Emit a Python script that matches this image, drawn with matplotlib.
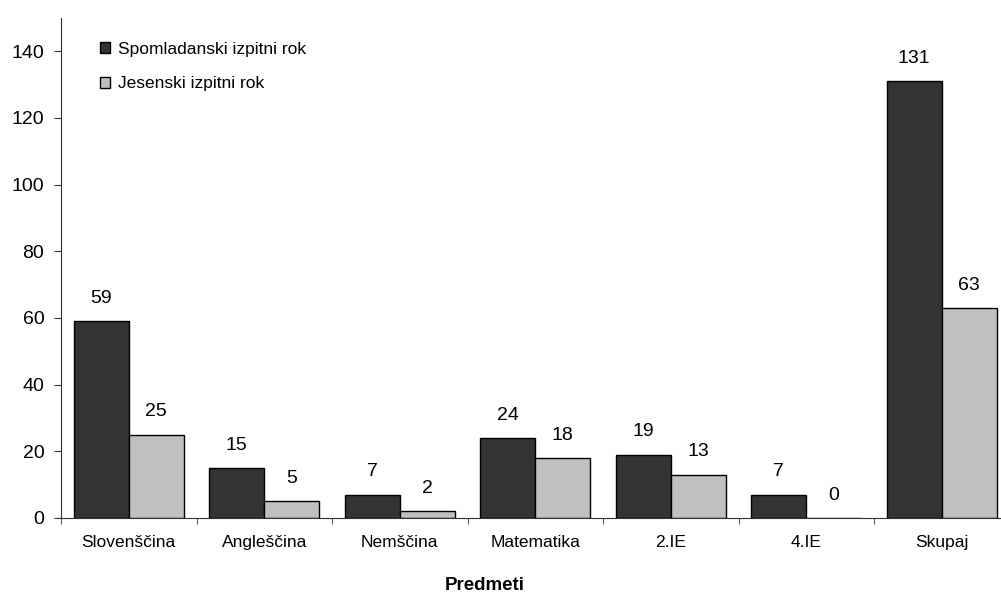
import numpy as np
import matplotlib
matplotlib.use('Agg')
import matplotlib.pyplot as plt

plt.rcParams['font.family'] = ['Liberation Sans', 'DejaVu Sans']

# podatki
predmeti = ['Slovenščina', 'Angleščina', 'Nemščina', 'Matematika', '2.IE', '4.IE', 'Skupaj']
spomladanski = [59, 15, 7, 24, 19, 7, 131]
jesenski = [25, 5, 2, 18, 13, 0, 63]

fig = plt.figure(figsize=(10.01, 5.96), dpi=100)
# os sega malo cez desni rob slike, kot v izvirniku
ax = fig.add_axes([61/1001, 78/596, 948.5/1001, 500/596])

x = np.arange(len(predmeti))
w = 0.406
ax.bar(x - w/2, spomladanski, w, color='#333333', edgecolor='black', linewidth=1,
       label='Spomladanski izpitni rok')
ax.bar(x + w/2, jesenski, w, color='#c0c0c0', edgecolor='black', linewidth=1,
       label='Jesenski izpitni rok')

for xi, v in zip(x - w/2, spomladanski):
    ax.text(xi, v + 6.9, str(v), ha='center', va='center', fontsize=14)
for xi, v in zip(x + w/2, jesenski):
    ax.text(xi, v + 6.9, str(v), ha='center', va='center', fontsize=14)

ax.set_xlim(-0.5, len(predmeti) - 0.5)
ax.set_ylim(0, 150)
ax.set_yticks(range(0, 141, 20))
ax.set_xticks(x)
ax.set_xticklabels(predmeti, fontsize=12.5)
ax.set_xticks(np.arange(-0.5, len(predmeti)), minor=True)
ax.tick_params(axis='x', which='major', length=0, pad=12)
ax.tick_params(axis='x', which='minor', length=4, direction='out', color='#333333')
ax.tick_params(axis='y', labelsize=14, length=5, pad=7, direction='out', color='#333333')

ax.spines['top'].set_visible(False)
ax.spines['right'].set_visible(False)
ax.spines['left'].set_color('#333333')
ax.spines['bottom'].set_color('#333333')

fig.text(485/1001, 1 - 586/596, 'Predmeti', ha='center', va='center',
         fontsize=13.5, fontweight='bold')

ax.legend(loc='upper left', bbox_to_anchor=(39/948.5, 476/500), frameon=False, fontsize=12.5,
          borderpad=0, borderaxespad=0,
          handlelength=0.6, handleheight=0.6, handletextpad=0.45, labelspacing=1.12)

fig.savefig('out.png', dpi=100)
